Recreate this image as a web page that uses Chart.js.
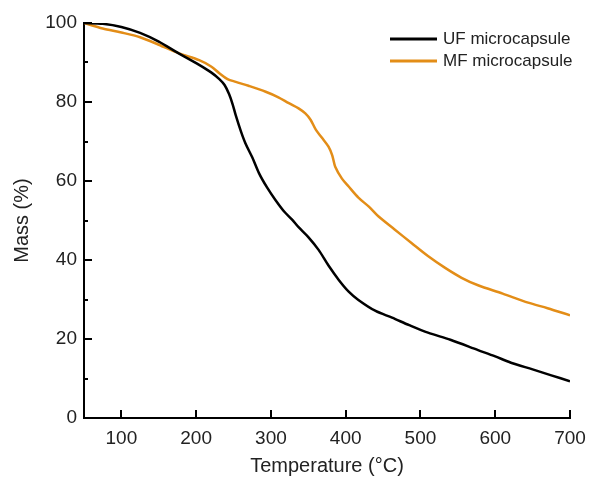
<!DOCTYPE html>
<html>
<head>
<meta charset="utf-8">
<script src="https://cdn.jsdelivr.net/npm/chart.js@4/dist/chart.umd.min.js"></script>
<style>
  html, body { margin: 0; padding: 0; background: #fff; }
  #wrap { width: 590px; height: 487px; position: relative; }
</style>
</head>
<body>
<div id="wrap"><canvas id="tgaChart"></canvas></div>
<script>
// TGA curves
const ufTemp = [50, 75, 100, 125, 150, 175, 204, 220, 231, 238, 244, 249, 253, 260, 266, 275, 284, 295, 306, 318, 328, 337, 350, 364, 377, 391, 404, 417, 440, 462, 485, 510, 540, 577, 600, 621, 650, 675, 700];
const ufMass = [100, 99.8, 99, 97.5, 95.3, 92.5, 89.4, 87.5, 85.8, 84.3, 82, 79.3, 76.6, 72.5, 69.5, 66, 62, 58.3, 55.2, 52.2, 50.3, 48.3, 45.8, 42.5, 38.6, 34.9, 32, 29.9, 27.1, 25.4, 23.5, 21.6, 19.8, 17.2, 15.6, 14, 12.3, 10.8, 9.3];

const mfTemp = [50, 75, 100, 125, 150, 177, 204, 220, 231, 242, 253, 270, 293, 310, 324, 337, 346, 353, 360, 368, 377, 382, 386, 395, 404, 417, 431, 444, 465, 488, 510, 533, 555, 577, 610, 644, 670, 700];
const mfMass = [100, 98.6, 97.6, 96.4, 94.5, 92.3, 90.6, 89, 87.3, 85.8, 85.1, 84.1, 82.6, 81.2, 79.7, 78.4, 77.1, 75.5, 73, 71, 68.7, 66.5, 63.6, 60.6, 58.6, 55.8, 53.5, 51, 47.8, 44.3, 41, 38, 35.5, 33.6, 31.5, 29.2, 27.8, 26];

const seriesNames = ['UF microcapsule', 'MF microcapsule'];
const seriesColors = ['#000000', '#e38d17'];
const xTickValues = [100, 200, 300, 400, 500, 600, 700];
const yTickValues = [0, 20, 40, 60, 80, 100];
const yMinorValues = [10, 30, 50, 70, 90];

function toPoints(xs, ys) {
    return xs.map((x, i) => ({ x: x, y: ys[i] }));
}

// inward tick marks drawn from the scales
const innerTicks = {
    id: 'innerTicks',
    afterDraw(chart) {
        const ctx = chart.ctx;
        const xs = chart.scales.x;
        const ys = chart.scales.y;
        const area = chart.chartArea;
        ctx.save();
        ctx.strokeStyle = '#000';
        ctx.lineWidth = 2;
        ctx.beginPath();
        xTickValues.forEach(v => {
            const px = Math.round(xs.getPixelForValue(v));
            ctx.moveTo(px, area.bottom);
            ctx.lineTo(px, area.bottom - 8);
        });
        yTickValues.forEach(v => {
            const py = Math.round(ys.getPixelForValue(v));
            ctx.moveTo(area.left, py);
            ctx.lineTo(area.left + 8, py);
        });
        yMinorValues.forEach(v => {
            const py = Math.round(ys.getPixelForValue(v));
            ctx.moveTo(area.left, py);
            ctx.lineTo(area.left + 4, py);
        });
        ctx.stroke();
        ctx.restore();
    }
};

// legend inside the plot, top right, stacked
const lineLegend = {
    id: 'lineLegend',
    afterDraw(chart) {
        const ctx = chart.ctx;
        ctx.save();
        ctx.font = '17px "Liberation Sans", Arial, sans-serif';
        ctx.textBaseline = 'middle';
        chart.data.datasets.forEach((ds, i) => {
            const y = 39 + i * 22;
            ctx.strokeStyle = ds.borderColor;
            ctx.lineWidth = 3;
            ctx.beginPath();
            ctx.moveTo(390, y);
            ctx.lineTo(437, y);
            ctx.stroke();
            ctx.fillStyle = '#222';
            ctx.fillText(ds.label, 443, y);
        });
        ctx.restore();
    }
};

const ctx = document.getElementById('tgaChart');
new Chart(ctx, {
    type: 'line',
    data: {
        datasets: [
            {
                label: seriesNames[0],
                data: toPoints(ufTemp, ufMass),
                borderColor: seriesColors[0],
                backgroundColor: seriesColors[0],
                borderWidth: 2.5,
                pointRadius: 0,
                tension: 0.3
            },
            {
                label: seriesNames[1],
                data: toPoints(mfTemp, mfMass),
                borderColor: seriesColors[1],
                backgroundColor: seriesColors[1],
                borderWidth: 2.5,
                pointRadius: 0,
                tension: 0.3
            }
        ]
    },
    options: {
        responsive: true,
        maintainAspectRatio: false,
        animation: false,
        layout: { padding: { top: 23, right: 20, left: 0, bottom: 0 } },
        plugins: {
            legend: { display: false },
            tooltip: { enabled: false }
        },
        scales: {
            x: {
                type: 'linear',
                min: 50,
                max: 700,
                afterBuildTicks: scale => {
                    scale.ticks = xTickValues.map(v => ({ value: v }));
                },
                afterFit: scale => {
                    scale.height = 69;
                    scale.paddingLeft = 0;
                    scale.paddingRight = 0;
                },
                grid: { drawOnChartArea: false, drawTicks: false },
                border: { color: '#000', width: 2 },
                ticks: {
                    padding: 9,
                    color: '#222',
                    font: { family: '"Liberation Sans", Arial, sans-serif', size: 19 }
                },
                title: {
                    display: true,
                    text: 'Temperature (°C)',
                    color: '#222',
                    padding: { top: 4, bottom: 9 },
                    font: { family: '"Liberation Sans", Arial, sans-serif', size: 20 }
                }
            },
            y: {
                min: 0,
                max: 100,
                afterBuildTicks: scale => {
                    scale.ticks = yTickValues.map(v => ({ value: v }));
                },
                afterFit: scale => {
                    scale.width = 84;
                    scale.paddingTop = 0;
                    scale.paddingBottom = 0;
                },
                grid: { drawOnChartArea: false, drawTicks: false },
                border: { color: '#000', width: 2 },
                ticks: {
                    padding: 7,
                    color: '#222',
                    font: { family: '"Liberation Sans", Arial, sans-serif', size: 19 }
                },
                title: {
                    display: true,
                    text: 'Mass (%)',
                    color: '#222',
                    padding: { top: 10, bottom: 0 },
                    font: { family: '"Liberation Sans", Arial, sans-serif', size: 20 }
                }
            }
        }
    },
    plugins: [innerTicks, lineLegend]
});
</script>
</body>
</html>
